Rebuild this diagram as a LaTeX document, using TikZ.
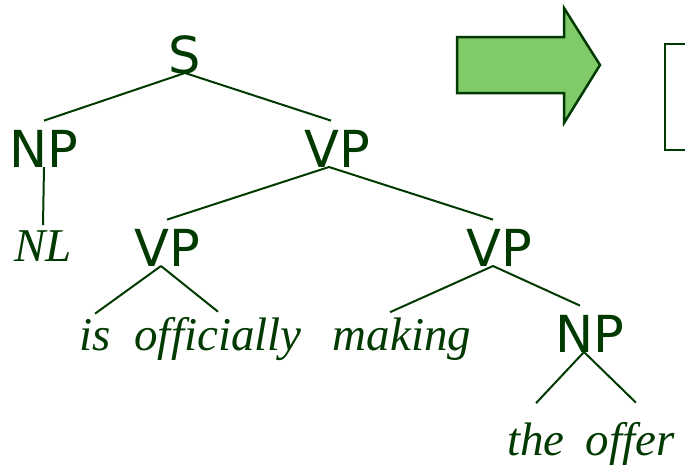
\documentclass[tikz,border=0pt]{standalone}
\usepackage{fontspec}
\usepackage{tikz}
\setmainfont{Liberation Serif}
\newfontfamily\catfont{DejaVu Sans}

\definecolor{treegreen}{RGB}{0,58,0}
\definecolor{arrowgreen}{RGB}{128,202,106}

\tikzset{
	cat/.style={font=\catfont\fontsize{51}{51}\selectfont, text=treegreen, anchor=base, inner sep=9pt},
	word/.style={font=\itshape\fontsize{47}{47}\selectfont, text=treegreen, anchor=base, inner sep=5pt},
	branch/.style={treegreen, line width=2pt}
}

\begin{document}
\begin{tikzpicture}[x=1pt,y=-1pt]
			\useasboundingbox (0,0) rectangle (685,469);
			% categories
			\node[cat] (s) at (185,73) {S};
			\node[cat] (np) at (44,167) {NP};
			\node[cat] (vp) at (337,167) {VP};
			\node[cat] (vpa) at (167,266) {VP};
			\node[cat] (vpb) at (499,266) {VP};
			\node[cat] (npb) at (590,352) {NP};
			% words
			\node[word] (nl) at (43,261) {NL};
			\node[word] (is) at (95,350) {is};
			\node[word] (off) at (218,350) {officially};
			\node[word] (mak) at (402,350) {making};
			\node[word, inner ysep=19pt] (the) at (536,455) {the};
			\node[word, inner ysep=19pt] (offer) at (630,455) {offer};
			% branches
			\draw[branch] (s.base) -- (np.north);
			\draw[branch] (s.base) -- ([xshift=-6pt]vp.north);
			\draw[branch] (np.base) -- (nl.north);
			\draw[branch] ([xshift=-8pt]vp.base) -- (vpa.north);
			\draw[branch] ([xshift=-8pt]vp.base) -- ([xshift=-6pt]vpb.north);
			\draw[branch] ([xshift=-6pt]vpa.base) -- (is.north);
			\draw[branch] ([xshift=-6pt]vpa.base) -- (off.north);
			\draw[branch] ([xshift=-6pt]vpb.base) -- ([xshift=-12pt]mak.north);
			\draw[branch] ([xshift=-6pt]vpb.base) -- ([xshift=-10pt]npb.north);
			\draw[branch] ([xshift=-6pt]npb.base) -- (the.north);
			\draw[branch] ([xshift=-6pt]npb.base) -- ([xshift=6pt]offer.north);
			% block arrow and bracket
			\draw[treegreen, line width=2.5pt, fill=arrowgreen, line join=miter]
				(457,37) -- (564,37) -- (564,8) -- (600,65) -- (564,123) -- (564,93) -- (457,93) -- cycle;
			\draw[treegreen, line width=2pt] (685,44) -- (665,44) -- (665,150) -- (685,150);
		\end{tikzpicture}
\end{document}
